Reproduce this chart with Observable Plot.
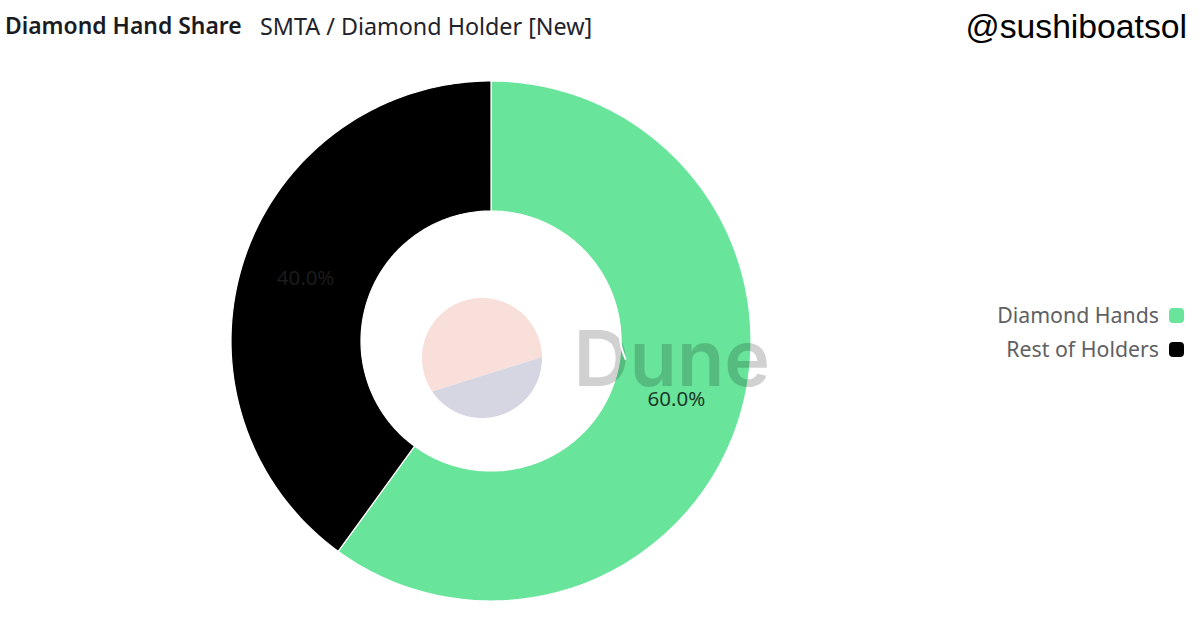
<!DOCTYPE html>
<html>
<head>
<meta charset="utf-8">
<script src="https://cdn.jsdelivr.net/npm/d3@7"></script>
<script src="https://cdn.jsdelivr.net/npm/@observablehq/plot@0.6"></script>
<style>
html,body{margin:0;padding:0;background:#fff;overflow:hidden}
#page{position:relative;width:1200px;height:639px;font-family:"Noto Sans",sans-serif}
#head{position:relative;height:56px}
#title{position:absolute;left:5px;top:10px;font:600 22.9px/32px "Noto Sans",sans-serif;color:#1a1b1f;white-space:nowrap}
#sub{position:absolute;left:260px;top:10px;font:400 23.3px/32px "Noto Sans",sans-serif;color:#22232a;white-space:nowrap}
#handle{position:absolute;right:13px;top:7px;font:400 33.7px/38px "Liberation Sans",sans-serif;color:#000;white-space:nowrap}
#legend{position:absolute;right:16px;top:298px;font:400 21.3px/34px "Noto Sans",sans-serif;color:#5f6063}
.row{display:flex;justify-content:flex-end;align-items:center;height:34px}
.sw{width:15px;height:15px;border-radius:4px;margin-left:10px}
svg{display:block}
</style>
</head>
<body>
<div id="page">
  <div id="head">
    <div id="title"></div><div id="sub"></div><div id="handle"></div>
  </div>
  <div id="chart"></div>
  <div id="legend"></div>
</div>
<script>
const titleText = "Diamond Hand Share";
const subtitleText = "SMTA / Diamond Holder [New]";
const handleText = "@sushiboatsol";
const categories = ["Diamond Hands", "Rest of Holders"];
const shares = [60, 40];
const labels = ["60.0%", "40.0%"];
const colors = ["#68e59b", "#000000"];
const labelColors = ["#1c3a2a", "#1c1c1c"];
const innerRatio = 0.5;
const logoColors = ["#f8dfd9", "#d6d6e3"];
const logoStops = [236, 449, 89, 236];
const notchX = [0.492, 0.5, 0.517];
const notchY = [0.0615, -0.0154, -0.069];

document.getElementById("title").textContent = titleText;
document.getElementById("sub").textContent = subtitleText;
document.getElementById("handle").textContent = handleText;
document.getElementById("legend").innerHTML = categories.map((c, i) =>
  `<div class="row"><span>${c}</span><span class="sw" style="background:${colors[i]}"></span></div>`).join("");

const W = 1200, H = 583, cx = 490.5, cy = 284.5, R = 260;
const rad = Math.PI / 180;
const polar = (a, r, ox = 0, oy = 0) => ({x: ox + r * Math.sin(a), y: oy + r * Math.cos(a)});
const arcPts = (a0, a1, r, ox = 0, oy = 0) =>
  d3.range(0, 181).map(i => polar(a0 + (a1 - a0) * i / 180, r, ox, oy));

const pie = d3.pie().sort(null).value(d => d)(shares);
const rings = pie.flatMap((s, i) => {
  const outer = arcPts(s.startAngle, s.endAngle, 1);
  const inner = arcPts(s.endAngle, s.startAngle, innerRatio);
  return [...outer, ...inner, outer[0]].map(p => ({...p, k: categories[i], color: colors[i]}));
});
const labelRows = pie.map((s, i) => ({
  ...polar((s.startAngle + s.endAngle) / 2, (1 + innerRatio) / 2),
  text: labels[i], color: labelColors[i]
}));

const logoX = -9 / 260, logoY = -17 / 260, logoR = 60 / 260;
const logo = [0, 1].flatMap(i => {
  const pts = arcPts(logoStops[i * 2] * rad, logoStops[i * 2 + 1] * rad, logoR, logoX, logoY);
  return pts.map(p => ({...p, k: i, color: logoColors[i]}));
});
const notch = notchX.map((x, i) => ({x, y: notchY[i]}));

const chart = Plot.plot({
  width: W, height: H,
  margin: 0,
  x: {domain: [-cx / R, (W - cx) / R], range: [0, W], axis: null},
  y: {domain: [-(H - cy) / R, cy / R], range: [H, 0], axis: null},
  marks: [
    Plot.line(rings, {x: "x", y: "y", z: "k", fill: "color", stroke: "#fff", strokeWidth: 1.2, curve: "linear"}),
    Plot.line(logo, {x: "x", y: "y", z: "k", fill: "color", stroke: "none", curve: "linear"}),
    Plot.text(["Dune"], {frameAnchor: "top-left", dx: 573, dy: 274, text: d => d, textAnchor: "start", lineAnchor: "top",
      fontFamily: "Inter, sans-serif", fontWeight: 600, fontSize: 77.5, fill: "#000", fillOpacity: 0.18}),
    Plot.line(notch, {x: "x", y: "y", stroke: "#fff", strokeWidth: 2, curve: "natural"}),
    Plot.text(labelRows, {x: "x", y: "y", dy: -2, text: "text", fill: "color", fontSize: 20.5, fontFamily: "Noto Sans, sans-serif"})
  ]
});
document.getElementById("chart").appendChild(chart);
</script>
</body>
</html>
